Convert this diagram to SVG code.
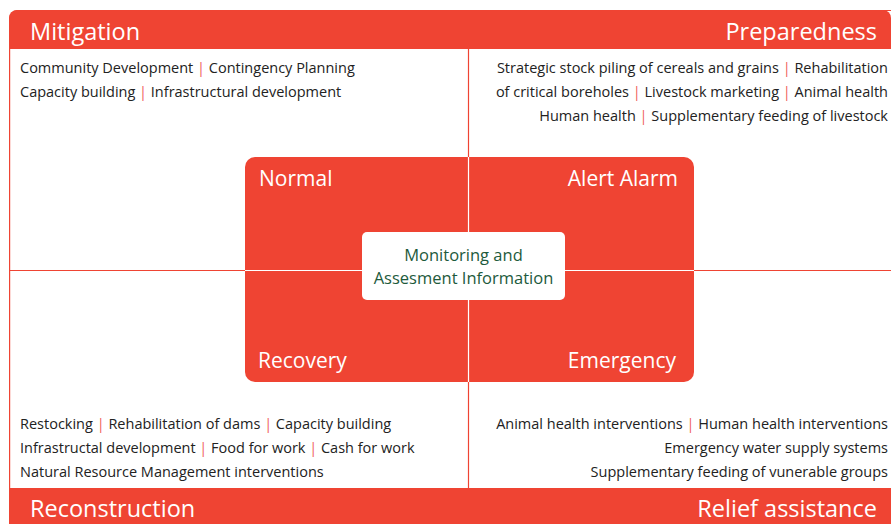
<svg xmlns="http://www.w3.org/2000/svg" width="891" height="524" viewBox="0 0 891 524">
<style>
.bar{fill:#ef4433}
.title{font-family:"Open Sans","Noto Sans",sans-serif;font-size:23.5px;fill:#ffffff}
.body{font-family:"Open Sans","Noto Sans",sans-serif;font-size:14.5px;fill:#222222}
.sep{fill:#f0605a}
.phase{font-family:"Open Sans","Noto Sans",sans-serif;font-size:21px;fill:#ffffff}
.center{font-family:"Open Sans","Noto Sans",sans-serif;font-size:16.5px;fill:#1d5a3c}
.rl{stroke:#ef4433;stroke-width:1.2;fill:none}
.wl{stroke:#ffffff;stroke-width:1.2;fill:none}
</style>
<rect width="891" height="524" fill="#ffffff"/>
<g id="frame">
<rect class="rl" x="9.6" y="10.5" width="890" height="520" rx="8"/>
<path class="bar" d="M9,49 V18 A8,8 0 0 1 17,10 H883 A8,8 0 0 1 891,18 V49 Z"/>
<path class="bar" d="M9,488 H891 V524 H9 Z"/>
</g>
<g id="connectors">
<line class="rl" x1="468.5" y1="49" x2="468.5" y2="488"/>
<line class="rl" x1="10" y1="270.5" x2="891" y2="270.5"/>
</g>
<g id="mitigation">
<text class="title" x="30" y="40">Mitigation</text>
<text class="body" x="20" y="73">Community Development <tspan class="sep">|</tspan> Contingency Planning</text>
<text class="body" x="20" y="97">Capacity building <tspan class="sep">|</tspan> Infrastructural development</text>
</g>
<g id="preparedness">
<text class="title" x="877" y="40" text-anchor="end">Preparedness</text>
<text class="body" x="888" y="73" text-anchor="end">Strategic stock piling of cereals and grains <tspan class="sep">|</tspan> Rehabilitation</text>
<text class="body" x="888" y="97" text-anchor="end">of critical boreholes <tspan class="sep">|</tspan> Livestock marketing <tspan class="sep">|</tspan> Animal health</text>
<text class="body" x="888" y="121" text-anchor="end">Human health <tspan class="sep">|</tspan> Supplementary feeding of livestock</text>
</g>
<g id="reconstruction">
<text class="title" x="30" y="517">Reconstruction</text>
<text class="body" x="20" y="429">Restocking <tspan class="sep">|</tspan> Rehabilitation of dams <tspan class="sep">|</tspan> Capacity building</text>
<text class="body" x="20" y="453">Infrastructal development <tspan class="sep">|</tspan> Food for work <tspan class="sep">|</tspan> Cash for work</text>
<text class="body" x="20" y="477">Natural Resource Management interventions</text>
</g>
<g id="relief">
<text class="title" x="877" y="517" text-anchor="end">Relief assistance</text>
<text class="body" x="888" y="429" text-anchor="end">Animal health interventions <tspan class="sep">|</tspan> Human health interventions</text>
<text class="body" x="888" y="453" text-anchor="end">Emergency water supply systems</text>
<text class="body" x="888" y="477" text-anchor="end">Supplementary feeding of vunerable groups</text>
</g>
<g id="cycle">
<rect class="bar" x="245" y="157" width="449" height="225" rx="10"/>
<line class="wl" x1="468.5" y1="157" x2="468.5" y2="382"/>
<line class="wl" x1="245" y1="270.5" x2="694" y2="270.5"/>
<text class="phase" x="259" y="186">Normal</text>
<text class="phase" x="678" y="186" text-anchor="end">Alert Alarm</text>
<text class="phase" x="258" y="368">Recovery</text>
<text class="phase" x="676" y="368" text-anchor="end">Emergency</text>
</g>
<g id="monitoring">
<rect x="362" y="232" width="203" height="68" rx="5" fill="#ffffff"/>
<text class="center" x="463.5" y="261" text-anchor="middle">Monitoring and</text>
<text class="center" x="463.5" y="284" text-anchor="middle">Assesment Information</text>
</g>
</svg>
